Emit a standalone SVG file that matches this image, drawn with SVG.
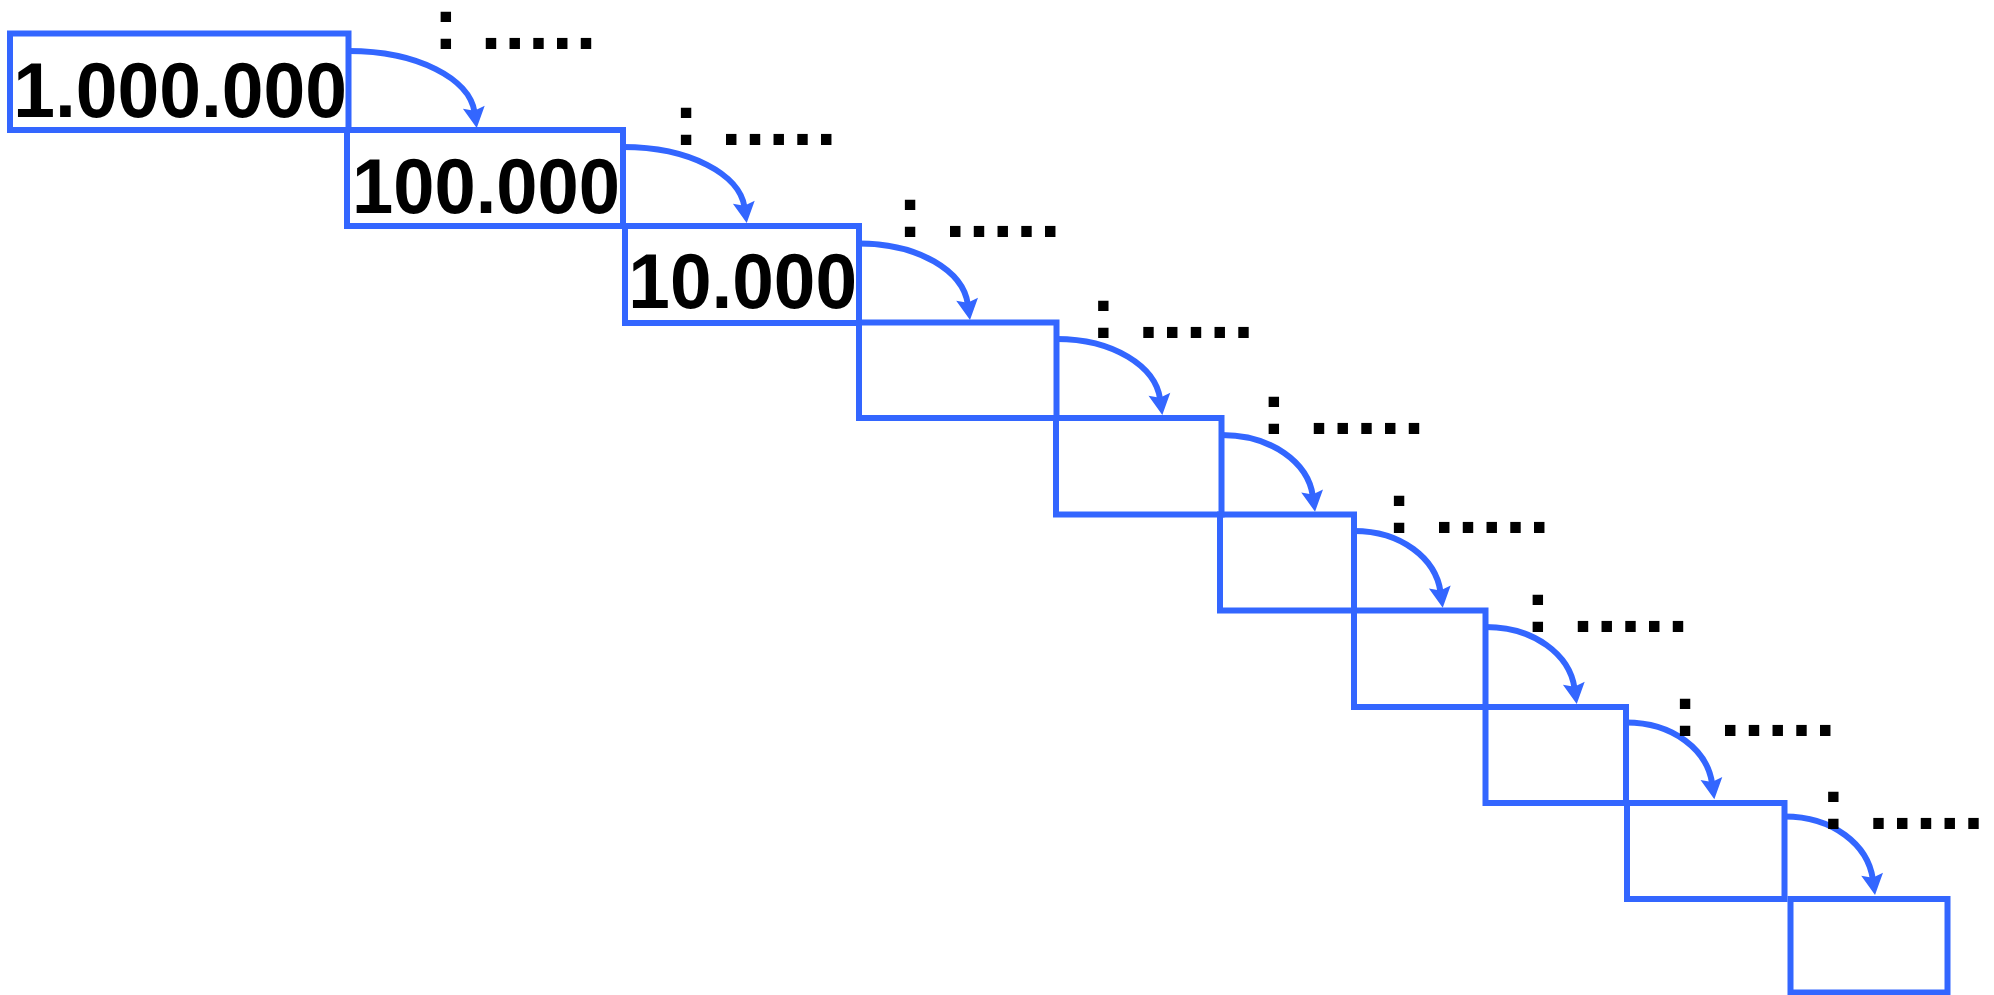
<svg xmlns="http://www.w3.org/2000/svg" width="1994" height="995" viewBox="0 0 1994 995">
<style>
.box{fill:none;stroke:#3366ff;stroke-width:6}
.arr{fill:none;stroke:#3366ff;stroke-width:6}
.num{font-family:"Liberation Sans",Arial,sans-serif;font-weight:bold;font-size:78px;fill:#000}
.lbl{font-family:"Liberation Sans",Arial,sans-serif;font-weight:bold;font-size:74px;fill:#000}
</style>
<defs>
<marker id="ah" markerUnits="userSpaceOnUse" markerWidth="28" markerHeight="28" viewBox="-8 -14 28 28" refX="0" refY="0" orient="auto">
<path d="M-5,-11 L16,0 L-5,11 L-1.5,0 Z" fill="#3366ff"/>
</marker>
</defs>
<rect width="1994" height="995" fill="#fff"/>
<g id="connectors">
<path class="arr" marker-end="url(#ah)" d="M348.5,51 C417.8,51 469.8,78.8 474.5,112.2"/>
<path class="arr" marker-end="url(#ah)" d="M623,147 C689.8,147 739.9,174.4 744.5,207.2"/>
<path class="arr" marker-end="url(#ah)" d="M859,243.5 C918.8,243.5 963.2,271.1 967.8,304.2"/>
<path class="arr" marker-end="url(#ah)" d="M1056.5,339 C1113.5,339 1155.5,366.4 1160.1,399.2"/>
<path class="arr" marker-end="url(#ah)" d="M1221.5,435 C1271.7,435 1308.1,462.7 1312.8,495.9"/>
<path class="arr" marker-end="url(#ah)" d="M1354,531 C1401.6,531 1435.8,558.7 1440.5,591.9"/>
<path class="arr" marker-end="url(#ah)" d="M1485.5,627 C1534.5,627 1569.8,654.8 1574.5,688.2"/>
<path class="arr" marker-end="url(#ah)" d="M1626,722.5 C1673.4,722.5 1707.4,750.2 1712.1,783.5"/>
<path class="arr" marker-end="url(#ah)" d="M1784.5,816.5 C1833.1,816.5 1868,845 1872.8,879.2"/>
</g>
<g id="node1"><rect class="box" x="10" y="33.5" width="338.5" height="96.5"/><text class="num" x="13.3" y="116.5" textLength="333.7" lengthAdjust="spacingAndGlyphs">1.000.000</text></g>
<g id="node2"><rect class="box" x="347" y="130" width="276" height="96"/><text class="num" x="352" y="213" textLength="268" lengthAdjust="spacingAndGlyphs">100.000</text></g>
<g id="node3"><rect class="box" x="625" y="226" width="234" height="97"/><text class="num" x="628.3" y="308" textLength="228.7" lengthAdjust="spacingAndGlyphs">10.000</text></g>
<g id="node4"><rect class="box" x="859" y="322.5" width="197.5" height="95.5"/></g>
<g id="node5"><rect class="box" x="1056" y="418" width="165.5" height="96.5"/></g>
<g id="node6"><rect class="box" x="1220" y="514.5" width="134" height="96"/></g>
<g id="node7"><rect class="box" x="1354" y="610.5" width="131.5" height="96.5"/></g>
<g id="node8"><rect class="box" x="1485.5" y="707" width="140.5" height="96"/></g>
<g id="node9"><rect class="box" x="1627" y="803" width="157.5" height="96"/></g>
<g id="node10"><rect class="box" x="1790.5" y="899" width="157" height="93.5"/></g>
<g id="labels">
<text class="lbl" x="433.4 463 480.7 504.4 528.2 551.9 575.7" y="48.7">: .....</text>
<text class="lbl" x="673.7 703 721 744.7 768.5 792.2 816" y="145">: .....</text>
<text class="lbl" x="897.7 927 945 968.7 992.5 1016.2 1040" y="236.7">: .....</text>
<text class="lbl" x="1091 1120 1138.3 1162 1185.8 1209.5 1233.3" y="337.7">: .....</text>
<text class="lbl" x="1261.4 1291 1308.7 1332.4 1356.2 1379.9 1403.7" y="434">: .....</text>
<text class="lbl" x="1386.7 1416 1434 1457.7 1481.5 1505.2 1529" y="532.7">: .....</text>
<text class="lbl" x="1525.4 1555 1572.7 1596.4 1620.2 1643.9 1667.7" y="632.3">: .....</text>
<text class="lbl" x="1672.7 1702 1720 1743.7 1767.5 1791.2 1815" y="736">: .....</text>
<text class="lbl" x="1821 1850 1868.3 1892 1915.8 1939.5 1963.3" y="829">: .....</text>
</g>
</svg>
